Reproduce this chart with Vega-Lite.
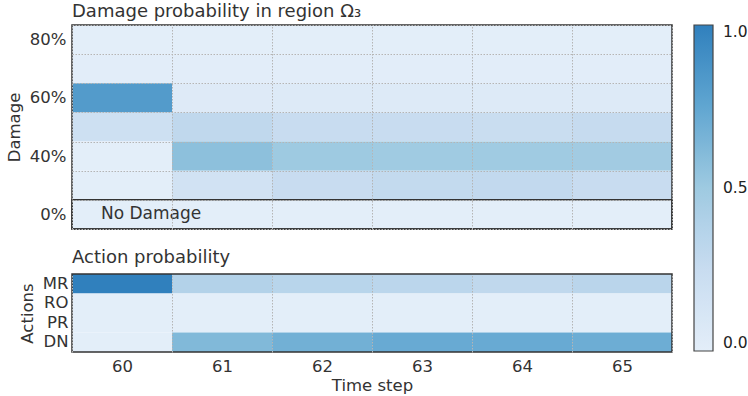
{
  "$schema": "https://vega.github.io/schema/vega-lite/v6.json",
  "padding": {"left": 6, "top": 3, "right": 5, "bottom": 2},
  "config": {
    "font": "DejaVu Sans",
    "view": {"stroke": null},
    "axis": {"labelFont": "DejaVu Sans", "titleFont": "DejaVu Sans", "labelColor": "#333333", "titleColor": "#333333", "labelFontSize": 16.5, "titleFontSize": 16.5, "titleFontWeight": "normal", "gridColor": "#b5b5b5", "gridDash": [1.5, 1.5], "gridWidth": 1, "ticks": false, "domain": false},
    "title": {"font": "DejaVu Sans", "fontSize": 18, "fontWeight": "normal", "color": "#333333", "anchor": "start", "frame": "group"},
    "legend": {"labelFont": "DejaVu Sans", "labelFontSize": 15.5, "labelColor": "#222222"}
  },
  "datasets": {
    "damage": [
      {"t": "60", "level": "80%", "p": 0.0}, {"t": "60", "level": "70%", "p": 0.01}, {"t": "60", "level": "60%", "p": 0.82}, {"t": "60", "level": "50%", "p": 0.2}, {"t": "60", "level": "40%", "p": 0.0}, {"t": "60", "level": "30%", "p": 0.0}, {"t": "60", "level": "0%", "p": 0.0},
      {"t": "61", "level": "80%", "p": 0.0}, {"t": "61", "level": "70%", "p": 0.01}, {"t": "61", "level": "60%", "p": 0.05}, {"t": "61", "level": "50%", "p": 0.3}, {"t": "61", "level": "40%", "p": 0.57}, {"t": "61", "level": "30%", "p": 0.17}, {"t": "61", "level": "0%", "p": 0.0},
      {"t": "62", "level": "80%", "p": 0.0}, {"t": "62", "level": "70%", "p": 0.01}, {"t": "62", "level": "60%", "p": 0.06}, {"t": "62", "level": "50%", "p": 0.25}, {"t": "62", "level": "40%", "p": 0.5}, {"t": "62", "level": "30%", "p": 0.25}, {"t": "62", "level": "0%", "p": 0.0},
      {"t": "63", "level": "80%", "p": 0.0}, {"t": "63", "level": "70%", "p": 0.01}, {"t": "63", "level": "60%", "p": 0.06}, {"t": "63", "level": "50%", "p": 0.25}, {"t": "63", "level": "40%", "p": 0.49}, {"t": "63", "level": "30%", "p": 0.28}, {"t": "63", "level": "0%", "p": 0.0},
      {"t": "64", "level": "80%", "p": 0.0}, {"t": "64", "level": "70%", "p": 0.01}, {"t": "64", "level": "60%", "p": 0.06}, {"t": "64", "level": "50%", "p": 0.24}, {"t": "64", "level": "40%", "p": 0.49}, {"t": "64", "level": "30%", "p": 0.29}, {"t": "64", "level": "0%", "p": 0.0},
      {"t": "65", "level": "80%", "p": 0.0}, {"t": "65", "level": "70%", "p": 0.01}, {"t": "65", "level": "60%", "p": 0.06}, {"t": "65", "level": "50%", "p": 0.26}, {"t": "65", "level": "40%", "p": 0.48}, {"t": "65", "level": "30%", "p": 0.25}, {"t": "65", "level": "0%", "p": 0.0}
    ],
    "actions": [
      {"t": "60", "action": "MR", "p": 1.0}, {"t": "60", "action": "RO", "p": 0.0}, {"t": "60", "action": "PR", "p": 0.0}, {"t": "60", "action": "DN", "p": 0.0},
      {"t": "61", "action": "MR", "p": 0.38}, {"t": "61", "action": "RO", "p": 0.0}, {"t": "61", "action": "PR", "p": 0.0}, {"t": "61", "action": "DN", "p": 0.62},
      {"t": "62", "action": "MR", "p": 0.35}, {"t": "62", "action": "RO", "p": 0.0}, {"t": "62", "action": "PR", "p": 0.0}, {"t": "62", "action": "DN", "p": 0.68},
      {"t": "63", "action": "MR", "p": 0.33}, {"t": "63", "action": "RO", "p": 0.0}, {"t": "63", "action": "PR", "p": 0.0}, {"t": "63", "action": "DN", "p": 0.72},
      {"t": "64", "action": "MR", "p": 0.3}, {"t": "64", "action": "RO", "p": 0.0}, {"t": "64", "action": "PR", "p": 0.0}, {"t": "64", "action": "DN", "p": 0.72},
      {"t": "65", "action": "MR", "p": 0.34}, {"t": "65", "action": "RO", "p": 0.0}, {"t": "65", "action": "PR", "p": 0.0}, {"t": "65", "action": "DN", "p": 0.7}
    ],
    "nodamage": [{"t": "60", "level": "0%", "label": "No Damage"}],
    "frame": [{"box": "frame"}]
  },
  "vconcat": [
    {
      "title": {"text": "Damage probability in region Ω₃", "offset": -4},
      "width": 600,
      "height": 204,
      "layer": [
        {
          "data": {"name": "damage"},
          "mark": {"type": "rect"},
          "encoding": {
            "x": {"field": "t", "type": "ordinal", "sort": ["60", "61", "62", "63", "64", "65"], "axis": {"labels": false, "title": null, "grid": true, "tickBand": "extent", "zindex": 1}},
            "y": {"field": "level", "type": "ordinal", "sort": ["80%", "70%", "60%", "50%", "40%", "30%", "0%"], "axis": {"title": "Damage", "grid": true, "tickBand": "extent", "zindex": 1, "labelPadding": 6, "titlePadding": 7, "labelExpr": "indexof(['70%','50%','30%'], datum.value) >= 0 ? '' : datum.value"}},
            "color": {"field": "p", "type": "quantitative", "scale": {"domain": [0, 0.25, 0.5, 0.75, 1], "range": ["#e3eef9", "#c8dcf0", "#9ecae1", "#60a6d1", "#3080bd"]}, "legend": {"title": null, "direction": "vertical", "gradientLength": 326, "gradientThickness": 19, "gradientStrokeColor": "#444444", "gradientStrokeWidth": 1.2, "values": [0, 0.5, 1], "format": ".1f", "offset": 21, "labelOffset": 10}}
          }
        },
        {
          "data": {"name": "nodamage"},
          "mark": {"type": "rect", "fillOpacity": 0, "stroke": "#333333", "strokeWidth": 1.5},
          "encoding": {
            "y": {"field": "level", "type": "ordinal", "sort": ["80%", "70%", "60%", "50%", "40%", "30%", "0%"]}
          }
        },
        {
          "data": {"name": "frame"},
          "mark": {"type": "rect", "fillOpacity": 0, "stroke": "#333333", "strokeWidth": 1.5},
          "encoding": {}
        },
        {
          "data": {"name": "nodamage"},
          "mark": {"type": "text", "align": "left", "dx": -21, "fontSize": 17, "color": "#333333", "font": "DejaVu Sans"},
          "encoding": {
            "x": {"field": "t", "type": "ordinal", "sort": ["60", "61", "62", "63", "64", "65"]},
            "y": {"field": "level", "type": "ordinal", "sort": ["80%", "70%", "60%", "50%", "40%", "30%", "0%"]},
            "text": {"field": "label"}
          }
        }
      ]
    },
    {
      "title": {"text": "Action probability", "offset": 6},
      "width": 600,
      "height": 78,
      "layer": [
        {
          "data": {"name": "actions"},
          "mark": {"type": "rect"},
          "encoding": {
            "x": {"field": "t", "type": "ordinal", "sort": ["60", "61", "62", "63", "64", "65"], "axis": {"title": "Time step", "labelAngle": 0, "grid": true, "tickBand": "extent", "zindex": 1, "labelPadding": 6, "titlePadding": 3}},
            "y": {"field": "action", "type": "ordinal", "sort": ["MR", "RO", "PR", "DN"], "axis": {"title": "Actions", "grid": false, "labelPadding": 4, "titlePadding": 7}},
            "color": {"field": "p", "type": "quantitative", "scale": {"domain": [0, 0.25, 0.5, 0.75, 1], "range": ["#e3eef9", "#c8dcf0", "#9ecae1", "#60a6d1", "#3080bd"]}}
          }
        },
        {
          "data": {"name": "frame"},
          "mark": {"type": "rect", "fillOpacity": 0, "stroke": "#333333", "strokeWidth": 1.5},
          "encoding": {}
        }
      ]
    }
  ],
  "spacing": 19
}
